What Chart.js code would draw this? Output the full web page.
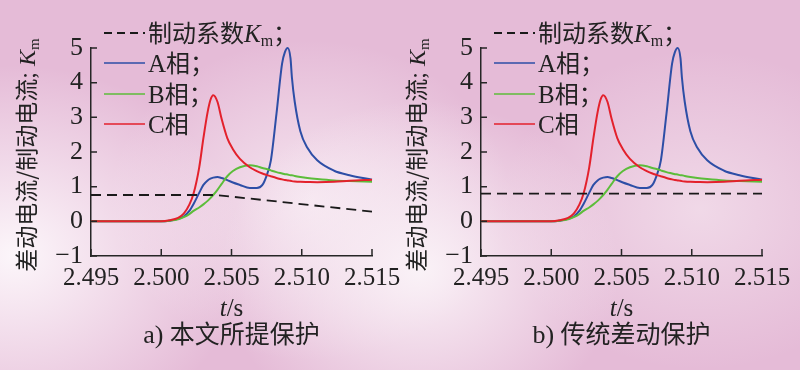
<!DOCTYPE html>
<html>
<head>
<meta charset="utf-8">
<script src="https://cdn.jsdelivr.net/npm/chart.js@4/dist/chart.umd.min.js"></script>
<style>
html,body{margin:0;padding:0;}
body{width:800px;height:370px;overflow:hidden;position:relative;
background:
 radial-gradient(ellipse 230px 190px at 15px 255px, rgba(252,246,250,1) 0%, rgba(252,246,250,0) 100%),
 radial-gradient(ellipse 200px 170px at 420px 270px, rgba(250,242,247,1) 0%, rgba(250,242,247,0) 100%),
 radial-gradient(ellipse 200px 160px at 310px 200px, rgba(245,228,239,1) 0%, rgba(245,228,239,0) 100%),
 radial-gradient(ellipse 200px 160px at 700px 210px, rgba(243,224,236,0.8) 0%, rgba(243,224,236,0) 100%),
 #e5bbd7;}
.panel{position:absolute;top:0;width:400px;height:370px;}
</style>
</head>
<body>
<div class="panel" style="left:0"><canvas id="c1" width="400" height="370"></canvas></div>
<div class="panel" style="left:400px"><canvas id="c2" width="400" height="370"></canvas></div>
<script>
// ---- data ----
const time = [2.495, 2.500, 2.5006, 2.5012, 2.5016, 2.5020, 2.5023, 2.5027, 2.5030, 2.5033, 2.5035, 2.5037, 2.5040, 2.5043, 2.5047, 2.5051, 2.5056, 2.5063, 2.5068, 2.5072, 2.5075, 2.5078, 2.5082, 2.5086, 2.5088, 2.5090, 2.5092, 2.5093, 2.5095, 2.5099, 2.5104, 2.5111, 2.5123, 2.5134, 2.5150];
const phaseA = [0, 0, 0.02, 0.07, 0.14, 0.30, 0.50, 0.82, 1.05, 1.18, 1.23, 1.26, 1.28, 1.25, 1.19, 1.12, 1.05, 0.96, 0.96, 1.05, 1.32, 1.75, 3.10, 4.55, 4.88, 5.00, 4.70, 4.15, 3.45, 2.60, 2.12, 1.76, 1.46, 1.33, 1.20];
const phaseB = [0, 0, 0.02, 0.06, 0.12, 0.21, 0.30, 0.40, 0.49, 0.59, 0.67, 0.76, 0.91, 1.08, 1.30, 1.45, 1.56, 1.62, 1.59, 1.54, 1.51, 1.47, 1.42, 1.38, 1.36, 1.35, 1.33, 1.33, 1.31, 1.28, 1.25, 1.22, 1.18, 1.16, 1.14];
const phaseC = [0, 0, 0.03, 0.10, 0.22, 0.48, 0.80, 1.55, 2.40, 3.15, 3.50, 3.64, 3.45, 2.95, 2.40, 2.08, 1.80, 1.56, 1.45, 1.38, 1.34, 1.30, 1.25, 1.21, 1.19, 1.18, 1.17, 1.16, 1.15, 1.14, 1.135, 1.13, 1.14, 1.17, 1.20];
const kmTime = [2.495, 2.5039, 2.515];
const kmProposed = [0.76, 0.76, 0.28];
const kmTraditional = [0.80, 0.80, 0.80];
const xTicks = [2.495, 2.500, 2.505, 2.510, 2.515];
const yTicks = [-1, 0, 1, 2, 3, 4, 5];
const legendLabels = ['A相；', 'B相；', 'C相'];
const captions = ['a) 本文所提保护', 'b) 传统差动保护'];

const COL_A = '#2d4ea6', COL_B = '#5cbd3a', COL_C = '#e3212c', COL_K = '#1a1a1a';
const SERIF = '"Liberation Serif", "Times New Roman", serif';
const CJK = '"Noto Sans CJK SC", sans-serif';

function pts(xs, ys){ return xs.map((x,i)=>({x:x, y:ys[i]})); }

function richWidth(ctx, segs){
  let w = 0;
  for (const s of segs){ ctx.font = s.font; w += ctx.measureText(s.text).width + (s.dx||0); }
  return w;
}
function drawRich(ctx, segs, x, y){
  for (const s of segs){
    ctx.font = s.font;
    x += (s.dx||0);
    ctx.fillText(s.text, x, y + (s.dy||0));
    x += ctx.measureText(s.text).width;
  }
}

const decorPlugin = {
  id: 'decor',
  afterDraw(chart, args, opts){
    const ctx = chart.ctx, a = chart.chartArea;
    const xs = chart.scales.x, ys = chart.scales.y;
    ctx.save();
    // inside ticks
    ctx.strokeStyle = '#262626'; ctx.lineWidth = 1.5;
    ctx.beginPath();
    for (const v of xTicks){ const p = xs.getPixelForValue(v); ctx.moveTo(p, a.bottom); ctx.lineTo(p, a.bottom - 7); }
    for (const v of yTicks){ const p = ys.getPixelForValue(v); ctx.moveTo(a.left, p); ctx.lineTo(a.left + 6, p); }
    ctx.stroke();

    ctx.fillStyle = '#222';
    ctx.textBaseline = 'alphabetic';
    // legend
    const lx0 = a.left + 13, lx1 = a.left + 54, tx = a.left + 57;
    const rows = [a.top - 15, a.top + 15, a.top + 46, a.top + 76];
    const cols = [COL_K, COL_A, COL_B, COL_C];
    for (let i = 0; i < 4; i++){
      ctx.beginPath();
      ctx.strokeStyle = cols[i];
      ctx.lineWidth = i === 0 ? 1.8 : 1.6;
      ctx.setLineDash(i === 0 ? [8, 5] : []);
      ctx.moveTo(lx0, rows[i]); ctx.lineTo(lx1, rows[i]);
      ctx.stroke();
    }
    ctx.setLineDash([]);
    const f22 = '24px ' + CJK, s22 = '25px ' + SERIF, i22 = 'italic 25px ' + SERIF, s14 = '16px ' + SERIF;
    drawRich(ctx, [{text:'制动系数', font:f22}, {text:'K', font:i22}, {text:'m', font:s14, dy:4}, {text:'；', font:f22}], tx, rows[0] + 9);
    for (let i = 0; i < 3; i++){
      const lab = legendLabels[i];
      drawRich(ctx, [{text:lab[0], font:s22}, {text:lab.slice(1), font:f22}], tx, rows[i+1] + 9);
    }
    // x title
    const cx = (a.left + a.right) / 2;
    let segs = [{text:'t', font:'italic 25px ' + SERIF}, {text:'/s', font:'25px ' + SERIF}];
    drawRich(ctx, segs, cx - richWidth(ctx, segs)/2, a.bottom + 60);
    // caption
    const cap = captions[opts.panel];
    segs = [{text:cap.slice(0,3), font:'26px ' + SERIF}, {text:cap.slice(3), font:'25px ' + CJK}];
    drawRich(ctx, segs, cx - richWidth(ctx, segs)/2, a.bottom + 87);
    // y title (rotated)
    ctx.translate(a.left - 64, (a.top + a.bottom)/2 + 3);
    ctx.rotate(-Math.PI/2);
    segs = [{text:'差动电流/制动电流', font:'23px ' + CJK}, {text:'; ', font:'24px ' + SERIF}, {text:'K', font:'italic 24px ' + SERIF}, {text:'m', font:'15px ' + SERIF, dy:4}];
    drawRich(ctx, segs, -richWidth(ctx, segs)/2, 8);
    ctx.restore();
  }
};

function makeChart(id, km, panel){
  const pad = panel === 0 ? {left:31, right:28, top:48, bottom:74} : {left:21, right:38, top:48, bottom:74};
  return new Chart(document.getElementById(id), {
    type: 'line',
    data: {
      datasets: [
        {label:'制动系数Km', data:pts(kmTime, km), borderColor:COL_K, borderWidth:1.8, borderDash:[10,6], pointRadius:0, tension:0},
        {label:'C相', data:pts(time, phaseC), borderColor:COL_C, borderWidth:2, pointRadius:0, cubicInterpolationMode:'monotone'},
        {label:'B相', data:pts(time, phaseB), borderColor:COL_B, borderWidth:2, pointRadius:0, cubicInterpolationMode:'monotone'},
        {label:'A相', data:pts(time, phaseA), borderColor:COL_A, borderWidth:2, pointRadius:0, cubicInterpolationMode:'monotone'}
      ]
    },
    options: {
      responsive:false, animation:false, devicePixelRatio:1,
      clip:false,
      layout:{padding:pad},
      plugins:{legend:{display:false}, tooltip:{enabled:false}, decor:{panel:panel}},
      scales:{
        x:{type:'linear', min:2.495, max:2.515,
           afterBuildTicks: s => { s.ticks = xTicks.map(v=>({value:v})); },
           afterFit: s => { s.height = 40; s.paddingLeft = 0; s.paddingRight = 0; },
           grid:{display:false, drawTicks:false},
           border:{display:true, color:'#262626', width:1.5},
           ticks:{autoSkip:false, maxRotation:0, padding:7, color:'#222', font:{family:SERIF, size:25},
                  callback: v => Number(v).toFixed(3)}},
        y:{type:'linear', min:-1, max:5,
           afterBuildTicks: s => { s.ticks = yTicks.map(v=>({value:v})); },
           afterFit: s => { s.width = 60; s.paddingTop = 0; s.paddingBottom = 0; },
           grid:{display:false, drawTicks:false},
           border:{display:true, color:'#262626', width:1.5},
           ticks:{autoSkip:false, padding:8, color:'#222', font:{family:SERIF, size:26},
                  callback: v => String(v).replace('-', '−')}}
      }
    },
    plugins:[decorPlugin]
  });
}
makeChart('c1', kmProposed, 0);
makeChart('c2', kmTraditional, 1);
</script>
</body>
</html>
